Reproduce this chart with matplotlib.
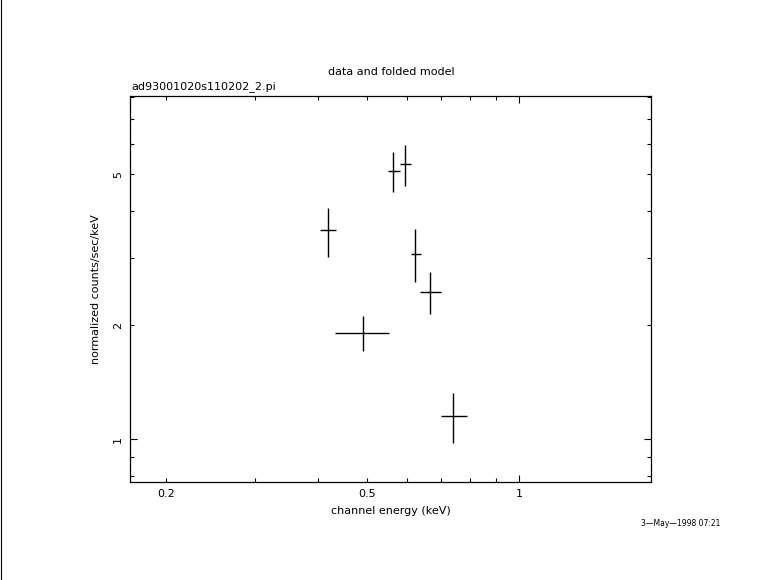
import matplotlib
matplotlib.use("Agg")
import matplotlib.pyplot as plt
from matplotlib.ticker import NullFormatter, LogLocator
from matplotlib.lines import Line2D

energy = [0.419, 0.492, 0.564, 0.595, 0.623, 0.667, 0.741]
energy_lo = [0.404, 0.432, 0.550, 0.580, 0.610, 0.638, 0.700]
energy_hi = [0.434, 0.552, 0.580, 0.610, 0.639, 0.700, 0.788]
rate = [3.56, 1.91, 5.08, 5.32, 3.07, 2.45, 1.15]
rate_lo = [3.03, 1.71, 4.47, 4.66, 2.59, 2.14, 0.978]
rate_hi = [4.06, 2.11, 5.72, 5.97, 3.58, 2.76, 1.32]
x_ticklabels = [0.2, 0.5, 1]
y_ticklabels = [1, 2, 5]

W, H = 781, 580
fig = plt.figure(figsize=(W / 100, H / 100), dpi=100)
ax = fig.add_axes([130 / W, 1 - 482 / H, 521 / W, 386 / H])
ax.set_xscale("log")
ax.set_yscale("log")
ax.set_xlim(0.1698, 1.825)
ax.set_ylim(0.771, 8.03)

xerr = [[e - l for e, l in zip(energy, energy_lo)], [h - e for e, h in zip(energy, energy_hi)]]
yerr = [[r - l for r, l in zip(rate, rate_lo)], [h - r for r, h in zip(rate, rate_hi)]]
ax.errorbar(energy, rate, xerr=xerr, yerr=yerr, fmt="none", ecolor="black",
            elinewidth=1.0, capsize=0)

for axis in (ax.xaxis, ax.yaxis):
    axis.set_major_locator(LogLocator(base=10, numticks=10))
    axis.set_minor_locator(LogLocator(base=10, subs=range(2, 10), numticks=10))
    axis.set_major_formatter(NullFormatter())
    axis.set_minor_formatter(NullFormatter())

ax.tick_params(which="both", direction="in", top=True, right=True, width=0.8,
               labelbottom=False, labelleft=False)
ax.tick_params(which="major", length=5)
ax.tick_params(which="minor", length=2.6)
for s in ax.spines.values():
    s.set_linewidth(0.9)

fs = 8
for v in x_ticklabels:
    ax.text(v, -12 / 386, f"{v:g}", transform=ax.get_xaxis_transform(), ha="center", va="center", fontsize=fs)
for v in y_ticklabels:
    ax.text(-12 / 521, v, f"{v:g}", transform=ax.get_yaxis_transform(), ha="center", va="center",
            rotation=90, fontsize=fs)

fig.text(391 / W, 1 - 511 / H, "channel energy (keV)", ha="center", va="center", fontsize=fs)
fig.text(96 / W, 1 - 289 / H, "normalized counts/sec/keV", ha="center", va="center", rotation=90, fontsize=fs)
fig.text(391 / W, 1 - 72 / H, "data and folded model", ha="center", va="center", fontsize=fs)
fig.text(131 / W, 1 - 87 / H, "ad93001020s110202_2.pi", ha="left", va="center", fontsize=fs)
fig.text(681 / W, 1 - 524 / H, "3\u2014May\u20141998 07:21", ha="center", va="center", fontsize=5.5)

fig.add_artist(Line2D([0.5 / W, 0.5 / W], [0, 1], transform=fig.transFigure, color="black", linewidth=0.8))

fig.savefig("out.png", dpi=100)
